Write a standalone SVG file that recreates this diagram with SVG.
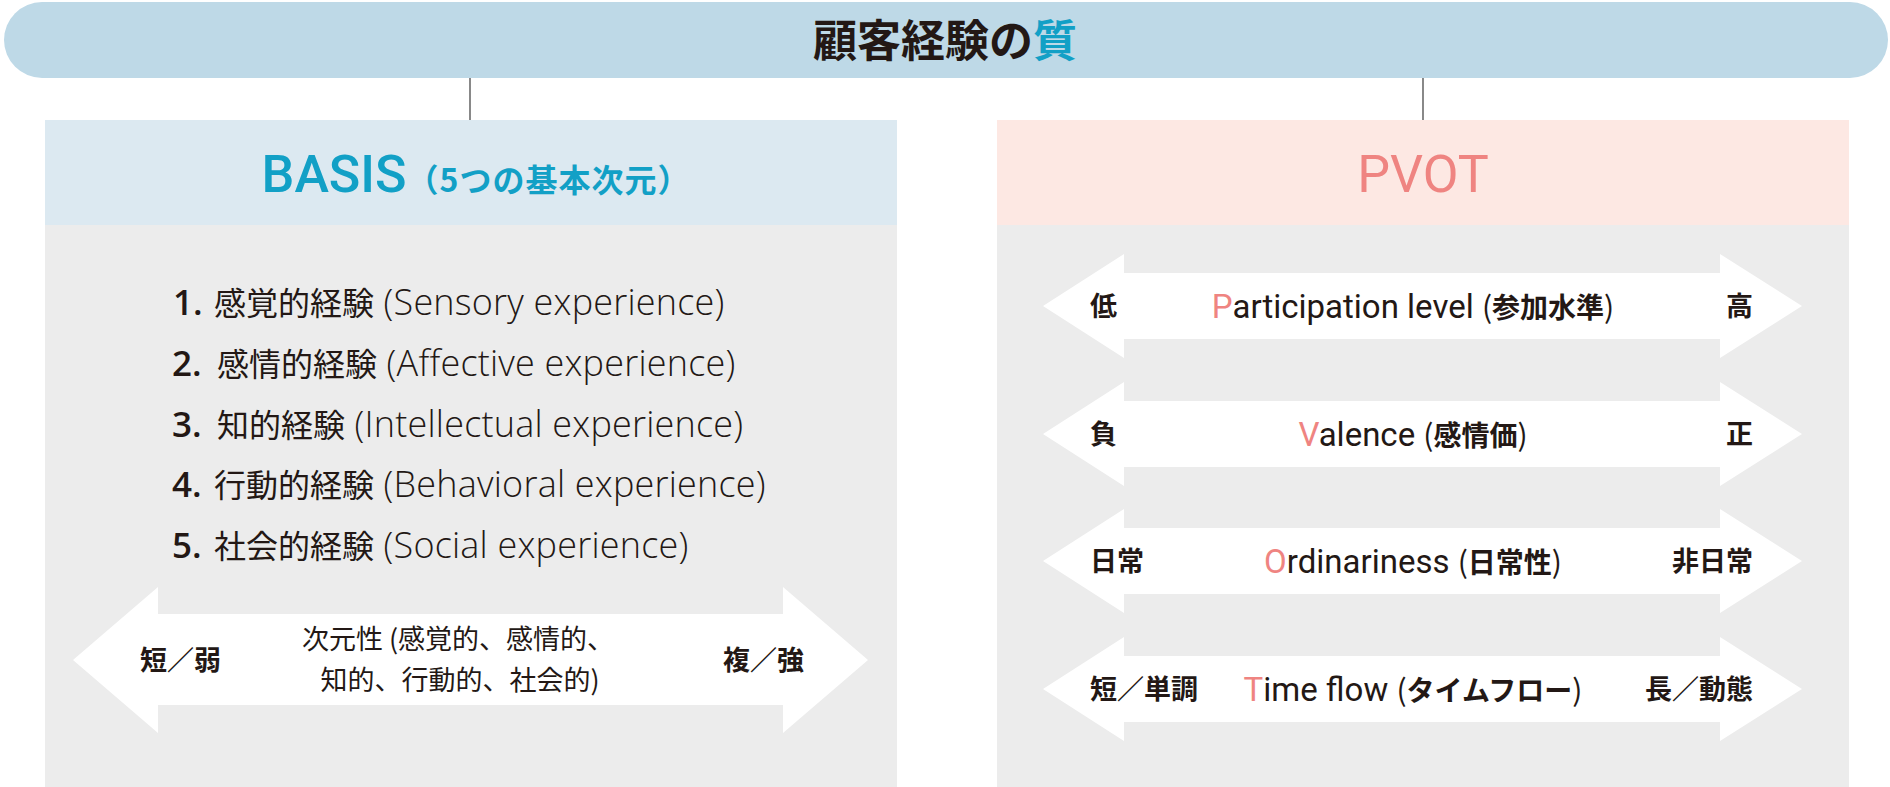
<svg xmlns="http://www.w3.org/2000/svg" width="1890" height="787" viewBox="0 0 1890 787">
<defs>
<style>
text{fill:#231815}
.jp{font-family:"Noto Sans CJK JP",sans-serif;font-weight:400}
.jpb{font-family:"Noto Sans CJK JP",sans-serif;font-weight:700}
.rb{font-family:Roboto,"Noto Sans CJK JP",sans-serif}
.blue{fill:#12a0c6}
.red{fill:#ef8481}
.arrow{fill:#ffffff}
.conn{stroke:#3a3a3a;stroke-width:1.2;fill:none}
.body{fill:#ececec}
.num{font-family:"Open Sans",sans-serif;font-weight:600;font-size:35px}
.item{font-family:"Open Sans","Noto Sans CJK JP",sans-serif;font-weight:300;font-size:36px;letter-spacing:0.2px}
.itemjp{font-family:"Noto Sans CJK JP",sans-serif;font-weight:400;font-size:32px;letter-spacing:0}
.lbl{font-family:"Noto Sans CJK JP",sans-serif;font-weight:700;font-size:27px}
.mid{font-family:Roboto,"Noto Sans CJK JP",sans-serif;font-size:33px}
.midjp{font-family:"Noto Sans CJK JP",sans-serif;font-weight:700;font-size:28px}
.par{font-family:"Noto Sans CJK JP",sans-serif;font-weight:400;font-size:30px}
</style>
<path id="pv-arrow" class="arrow" d="M1043,0 L1124,-52 L1124,-33 L1720,-33 L1720,-52 L1802,0 L1720,52 L1720,33 L1124,33 L1124,52 Z"/>
</defs>
<rect x="0" y="0" width="1890" height="787" fill="#ffffff"/>

<g id="title">
<rect x="4" y="2" width="1884" height="76" rx="38" fill="#bed9e7"/>
<text class="jpb" x="945" y="57" font-size="44" text-anchor="middle">顧客経験の<tspan class="blue">質</tspan></text>
</g>

<g id="connectors">
<line class="conn" x1="470" y1="78" x2="470" y2="120"/>
<line class="conn" x1="1423" y1="78" x2="1423" y2="120"/>
</g>

<g id="basis">
<rect x="45" y="120" width="852" height="667" class="body"/>
<rect x="45" y="120" width="852" height="105" fill="#dce9f1"/>
<text x="476" y="192" text-anchor="middle"><tspan class="rb blue" font-size="52" font-weight="500">BASIS</tspan><tspan class="jpb blue" font-size="32" letter-spacing="1">（5つの基本次元）</tspan></text>

<text class="num" x="173" y="315">1.</text>
<text class="item" x="214" y="315"><tspan class="itemjp">感覚的経験</tspan> (Sensory experience)</text>
<text class="num" x="172" y="376">2.</text>
<text class="item" x="217" y="376"><tspan class="itemjp">感情的経験</tspan> (Affective experience)</text>
<text class="num" x="172" y="437">3.</text>
<text class="item" x="217" y="437"><tspan class="itemjp">知的経験</tspan> (Intellectual experience)</text>
<text class="num" x="172" y="497">4.</text>
<text class="item" x="214" y="497"><tspan class="itemjp">行動的経験</tspan> (Behavioral experience)</text>
<text class="num" x="172" y="558">5.</text>
<text class="item" x="214" y="558"><tspan class="itemjp">社会的経験</tspan> (Social experience)</text>

<polygon class="arrow" points="73,660 158,587 158,614 783,614 783,587 868,660 783,733 783,705 158,705 158,733"/>
<text class="lbl" x="140" y="670" font-size="28">短／弱</text>
<text class="lbl" x="804" y="670" font-size="28" text-anchor="end">複／強</text>
<text class="jp" x="458" y="649" font-size="27" text-anchor="middle">次元性 (感覚的、感情的、</text>
<text class="jp" x="460" y="690" font-size="27" text-anchor="middle">知的、行動的、社会的)</text>
</g>

<g id="pvot">
<rect x="997" y="120" width="852" height="667" class="body"/>
<rect x="997" y="120" width="852" height="105" fill="#fde8e3"/>
<text class="rb red" x="1423" y="192" font-size="52" text-anchor="middle">PVOT</text>

<use href="#pv-arrow" y="306"/>
<text class="lbl" x="1090" y="316">低</text>
<text class="lbl" x="1753" y="316" text-anchor="end">高</text>
<text class="mid" x="1413" y="318" text-anchor="middle"><tspan class="red">P</tspan>articipation level <tspan class="par">(</tspan><tspan class="midjp">参加水準</tspan><tspan class="par">)</tspan></text>

<use href="#pv-arrow" y="434"/>
<text class="lbl" x="1090" y="444">負</text>
<text class="lbl" x="1753" y="444" text-anchor="end">正</text>
<text class="mid" x="1413" y="446" text-anchor="middle"><tspan class="red">V</tspan>alence <tspan class="par">(</tspan><tspan class="midjp">感情価</tspan><tspan class="par">)</tspan></text>

<use href="#pv-arrow" y="561"/>
<text class="lbl" x="1090" y="571">日常</text>
<text class="lbl" x="1753" y="571" text-anchor="end">非日常</text>
<text class="mid" x="1413" y="573" text-anchor="middle"><tspan class="red">O</tspan>rdinariness <tspan class="par">(</tspan><tspan class="midjp">日常性</tspan><tspan class="par">)</tspan></text>

<use href="#pv-arrow" y="689"/>
<text class="lbl" x="1090" y="699">短／単調</text>
<text class="lbl" x="1753" y="699" text-anchor="end">長／動態</text>
<text class="mid" x="1413" y="701" text-anchor="middle"><tspan class="red">T</tspan>ime flow <tspan class="par">(</tspan><tspan class="midjp">タイムフロー</tspan><tspan class="par">)</tspan></text>
</g>
</svg>
